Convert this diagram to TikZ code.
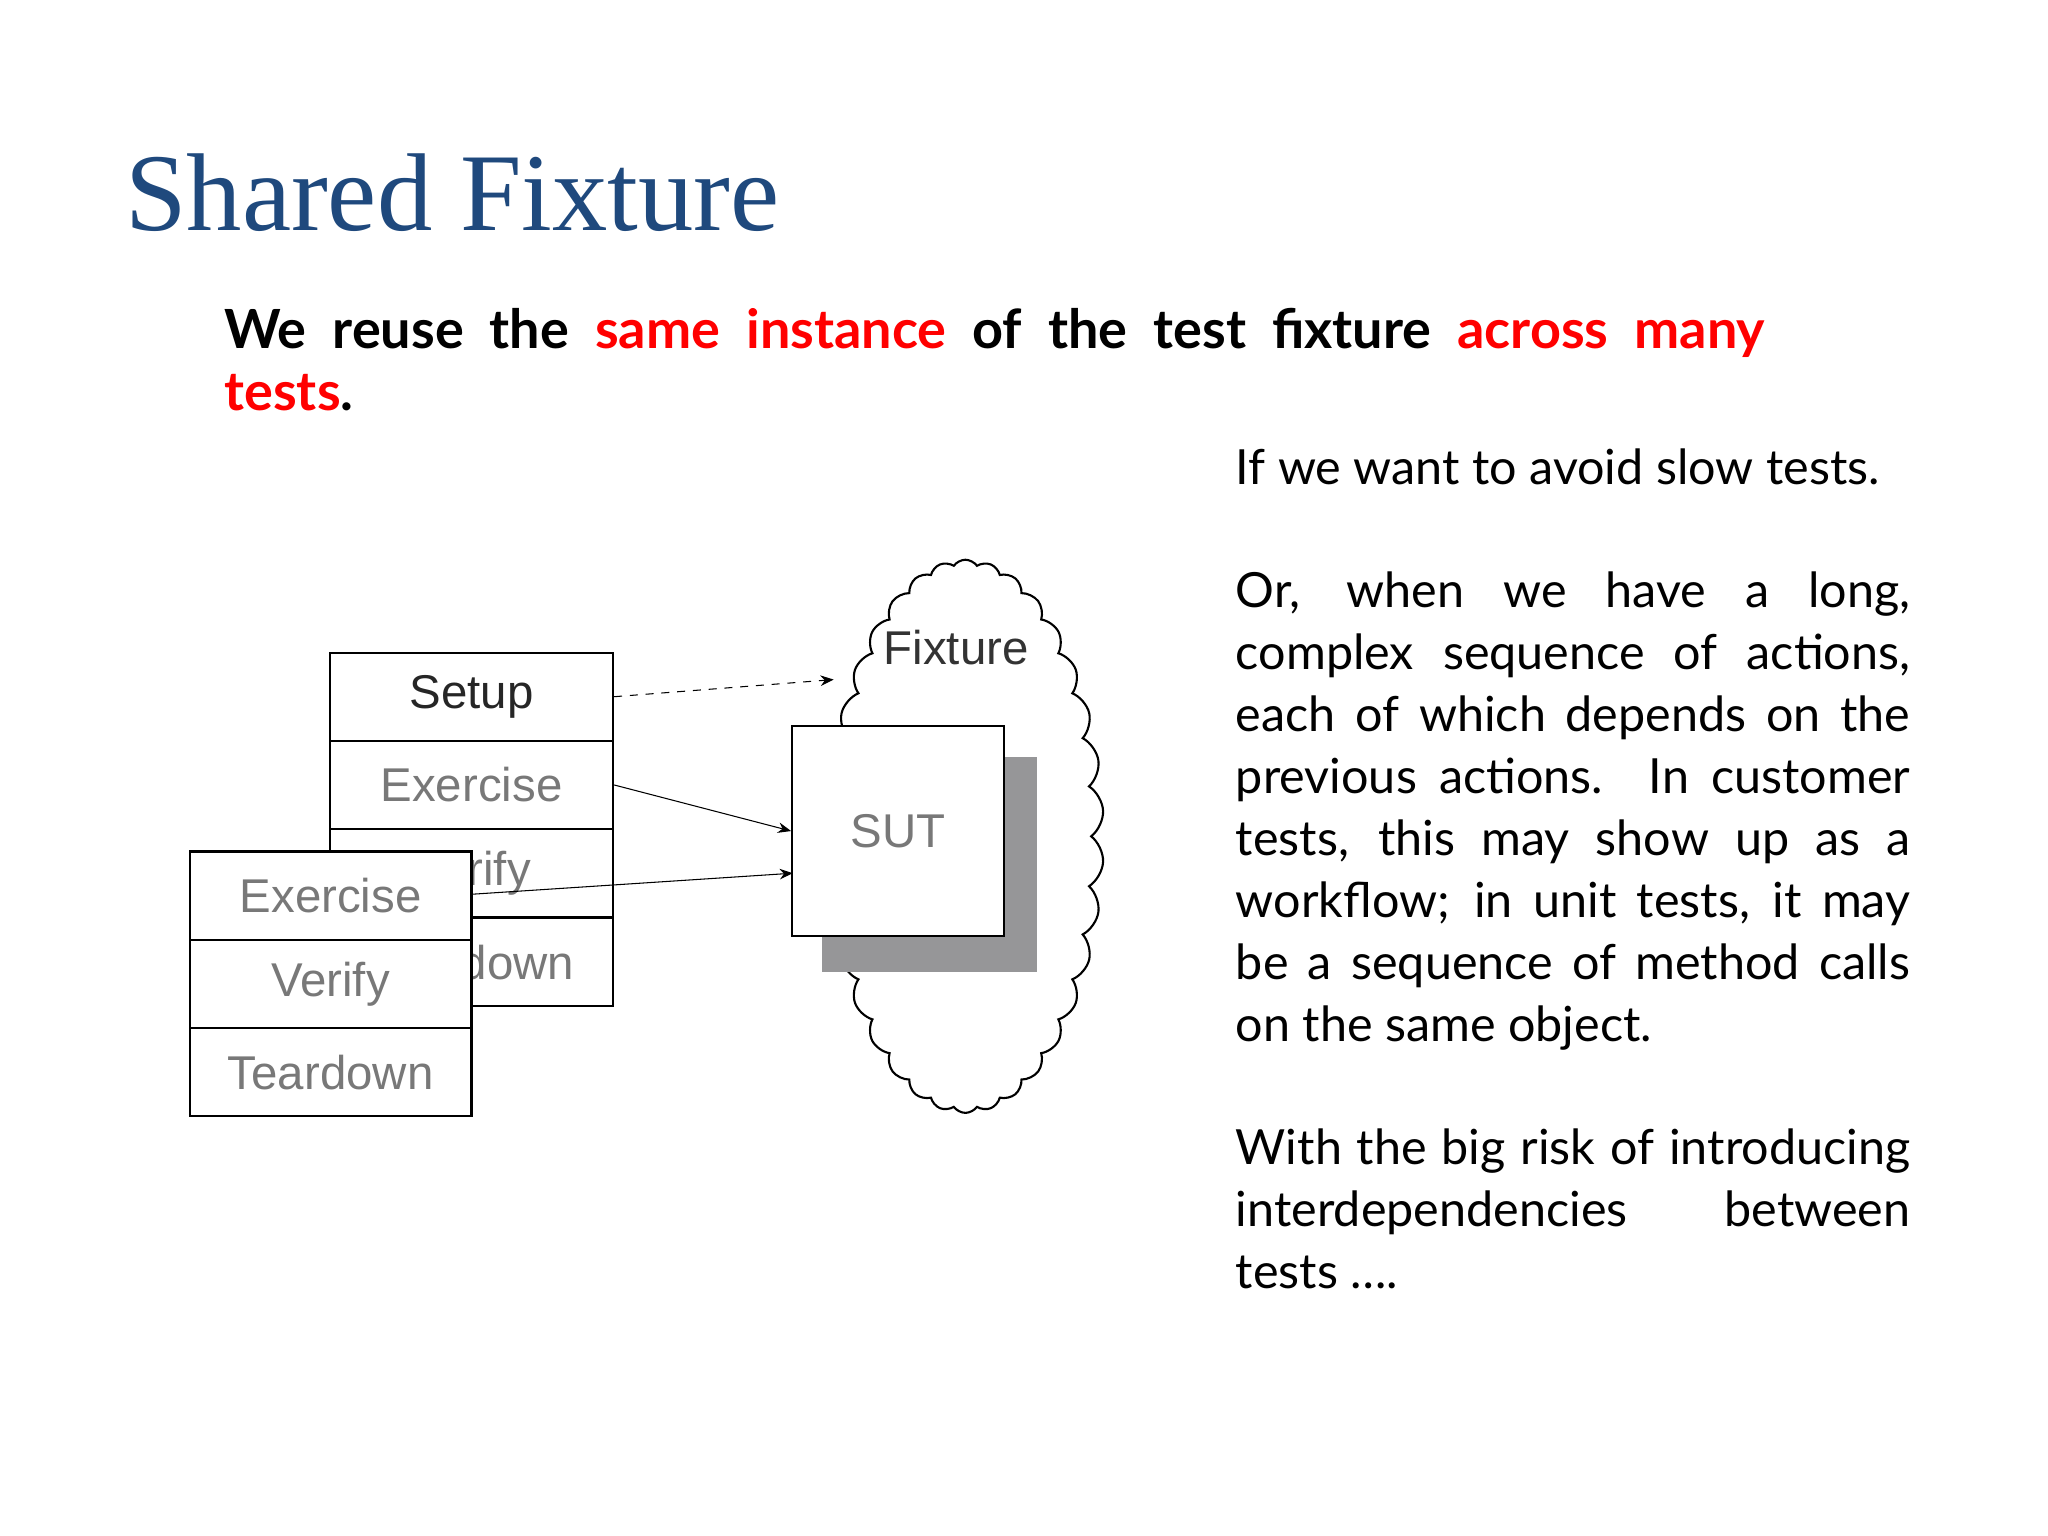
\documentclass[tikz,border=0pt]{standalone}
\usepackage{fontspec}
\setmainfont{Lato}
\newfontfamily\arialf{Liberation Sans}
\newfontfamily\titlef{Liberation Serif}
\usetikzlibrary{shapes.symbols,arrows.meta}
\definecolor{titleblue}{RGB}{31,73,125}
\definecolor{hired}{RGB}{255,0,0}
\definecolor{boxgray}{RGB}{120,120,120}
\definecolor{shadowgray}{RGB}{150,150,152}
\begin{document}
\begin{tikzpicture}[x=0.5pt,y=-0.5pt,
  cell/.style={draw,thick,fill=white,minimum width=107.5pt,minimum height=33.5pt,inner sep=0pt,font=\arialf\fontsize{18}{20}\selectfont,text=boxgray},
  cellf/.style={cell,minimum width=107pt},
  arr/.style={-{Stealth[length=5pt,width=4pt]},thin}]
\useasboundingbox (0,0) rectangle (1555,1166);
\node[anchor=base west,font=\titlef\fontsize{42}{44}\selectfont,text=titleblue] (title) at (88,175) {Shared Fixture};
\node[anchor=north west,text width=585pt,align=left,inner sep=0pt,font=\bfseries\fontsize{20.5}{23.5}\selectfont] (lead) at (170,234)
 {\hbox to 585pt{We\hfill reuse\hfill the\hfill \textcolor{hired}{same}\hfill \textcolor{hired}{instance}\hfill of\hfill the\hfill test\hfill fixture\hfill \textcolor{hired}{across}\hfill \textcolor{hired}{many}}\\\textcolor{hired}{tests}.};
\node[anchor=north west,text width=256pt,align=justify,inner sep=0pt,font=\fontsize{18.4}{23.5}\selectfont] (body) at (938,340)
 {\hyphenpenalty=10000\exhyphenpenalty=10000 If we want to avoid slow tests.\par\vspace{23.5pt}
 Or, when we have a long, complex sequence of actions, each of which depends on the previous actions. In customer tests, this may show up as a workflow; in unit tests, it may\linebreak be a sequence of method calls on the same object.\par\vspace{23.5pt}
 With the big risk of introducing\linebreak interdependencies between tests \dots.};
% cloud
\node[cloud,draw,thick,cloud puffs=34,cloud puff arc=110,aspect=0.5,minimum width=105pt,minimum height=210pt] (cloud) at (733,635) {};
\node[font=\arialf\fontsize{18}{20}\selectfont,text=black!80] (fix) at (726,492) {Fixture};
\fill[shadowgray] (624,575) rectangle (787,738);
\node[draw,thick,fill=white,minimum width=80.5pt,minimum height=80pt,inner sep=0pt,font=\arialf\fontsize{18}{20}\selectfont,text=boxgray] (sut) at (682,631) {SUT};
% back boxes
\node[cell,text=black!85] (setup) at (358,529) {Setup};
\node[cell] (ex1) at (358,596) {Exercise};
\node[cell] (ve1) at (358,663) {Verify};
\node[cell] (td1) at (358,730.5) {Teardown};
\draw[arr,dashed] (setup.east) -- (633,516);
\draw[arr] (ex1.east) -- (sut.west);
% front boxes
\node[cellf] (ex2) at (251,680) {Exercise};
\node[cellf] (ve2) at (251,747) {Verify};
\node[cellf] (td2) at (251,814) {Teardown};
\draw[arr] (358,679) -- (602,663);
\end{tikzpicture}
\end{document}
